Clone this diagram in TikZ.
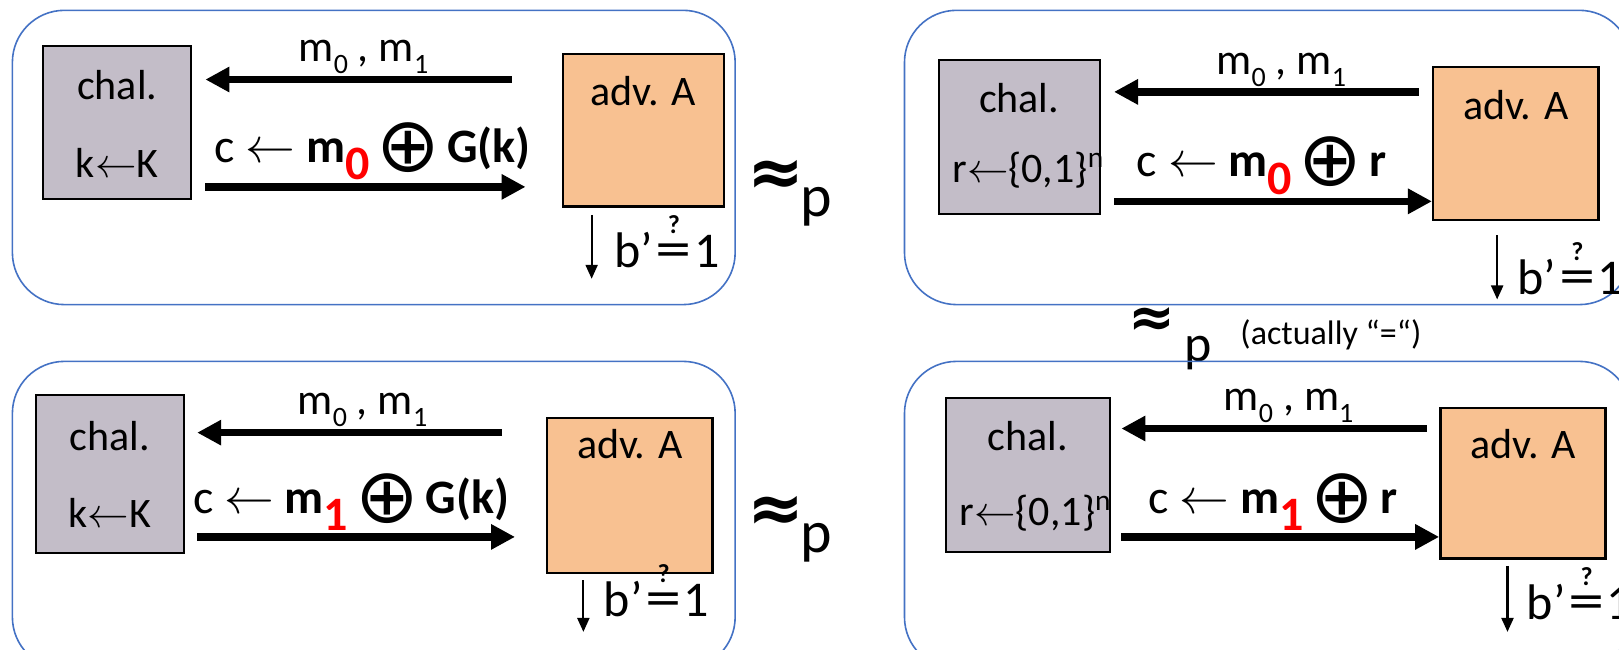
\documentclass[tikz,border=0pt]{standalone}
\usepackage{amsmath,graphicx}
\usepackage{fontspec}
\setmainfont{Carlito}
\newfontfamily\symfont{DejaVu Sans}
\usetikzlibrary{arrows.meta}
\definecolor{chalgray}{HTML}{C3BDC8}
\definecolor{advorange}{HTML}{F8C191}
\definecolor{panelblue}{HTML}{4472C4}
\newcommand{\redsub}[1]{\raisebox{-8.8pt}{\textcolor{red}{\textbf{#1}}}}
\newcommand{\lowsub}[1]{\raisebox{-6pt}{\fontsize{14}{14}\selectfont #1}}
\newcommand{\xorsym}{\kern-2pt\raisebox{-4.5pt}{\fontsize{38}{38}\symfont ⊕}\kern-2pt}
\newcommand{\bqeq}{b’\kern1.5pt$\overset{\mbox{\fontsize{13}{13}\selectfont\bfseries ?}}{\mbox{\scalebox{1.45}[1.1]{=}}}$\kern1pt 1}

\begin{document}
\begin{tikzpicture}[x=0.51625pt,y=-0.51625pt,font=\fontsize{21}{25}\selectfont,
panel/.style={draw=panelblue,line width=.8pt,rounded corners=26pt},
chalbox/.style={draw,fill=chalgray,line width=1pt,inner sep=0pt},
advbox/.style={draw,fill=advorange,line width=1.2pt,inner sep=0pt},
big/.style={line width=3.8pt,-{Triangle[length=12pt,width=12pt]}},
outarr/.style={line width=1.1pt,-{Triangle[length=7pt,width=6pt]}},
msg/.style={anchor=base,font=\fontsize{22}{26}\selectfont},
lab/.style={anchor=base,font=\fontsize{24}{28}\selectfont},
res/.style={anchor=base west,font=\fontsize{25}{29}\selectfont},
apx/.style={font=\fontsize{34}{38}\symfont\bfseries},
apxp/.style={font=\fontsize{30}{34}\selectfont}]
\useasboundingbox (0,0) rectangle (1568,629);
\clip (0,0) rectangle (1568,629);
% top left: real G(k), m0
\draw[panel] (12,10) rectangle (712,295);
\node[chalbox,minimum width=73.8pt,minimum height=76.4pt] (c1) at (113.5,119) {};
\node (c1n) at (113.5,82) {chal.};
\node (c1k) at (113.5,158) {k$\leftarrow$K};
\node[advbox,minimum width=80.5pt,minimum height=76.4pt] (a1) at (623,126) {};
\node (a1n) at (623,88) {adv. A};
\node[msg] (q1) at (352,60) {m\lowsub{0} , m\lowsub{1}};
\draw[big,shorten <=24.8pt,shorten >=6.7pt] (a1.west |- 0,77) -- (c1.east |- 0,77);
\node[lab] (x1) at (361,157) {c $\leftarrow$ \textbf{m}\redsub{0} \xorsym{} \textbf{G(k)}};
\draw[big,shorten <=6.7pt,shorten >=18pt] (c1.east |- 0,181) -- (a1.west |- 0,181);
\coordinate (b1) at (573,270);
\draw[outarr,shorten <=3.6pt] (a1.south -| b1) -- (b1);
\node[res] (r1) at (588,259) {\bqeq};
\node[apx] (s1) at (752,172) {≈};
\node[apxp] (s1p) at (791,200) {p};
% top right: random r, m0
\draw[panel] (876,10) rectangle (1580,295);
\node[chalbox,minimum width=80.5pt,minimum height=76.9pt] (c2) at (987,132.5) {};
\node (c2n) at (987,95) {chal.};
\node (c2k) at (996,165) {r$\leftarrow$\{0,1\}\textsuperscript{n}};
\node[advbox,minimum width=82.6pt,minimum height=76.4pt] (a2) at (1468,139) {};
\node (a2n) at (1468,102) {adv. A};
\node[msg] (q2) at (1241,72) {m\lowsub{0} , m\lowsub{1}};
\draw[big,shorten <=6.7pt,shorten >=6.7pt] (a2.west |- 0,89) -- (c2.east |- 0,89);
\node[lab] (x2) at (1222,171) {c $\leftarrow$ \textbf{m}\redsub{0} \xorsym{} \textbf{r}};
\draw[big,shorten <=6.7pt] (c2.east |- 0,195) -- (a2.west |- 0,195);
\coordinate (b2) at (1450,290);
\draw[outarr,shorten <=7pt] (a2.south -| b2) -- (b2);
\node[res] (r2) at (1463,285) {\bqeq};
% between the two right panels
\node[apx,font=\fontsize{28}{32}\symfont\bfseries] (s0) at (1116,312) {≈};
\node[font=\fontsize{26}{30}\selectfont] (s0p) at (1160,342) {p};
\node[font=\fontsize{17}{20}\selectfont] (s0a) at (1289,324) {(actually “=“)};
% bottom left: real G(k), m1
\draw[panel] (12,350) rectangle (712,648);
\node[chalbox,minimum width=73.8pt,minimum height=79pt] (c3) at (106.5,459.5) {};
\node (c3n) at (106.5,422) {chal.};
\node (c3k) at (106.5,497) {k$\leftarrow$K};
\node[advbox,minimum width=82.6pt,minimum height=77.4pt] (a3) at (610,480) {};
\node (a3n) at (610,430) {adv. A};
\node[msg] (q3) at (351,401) {m\lowsub{0} , m\lowsub{1}};
\draw[big,shorten <=22pt,shorten >=6.2pt] (a3.west |- 0,419) -- (c3.east |- 0,419);
\node[lab] (x3) at (340,497) {c $\leftarrow$ \textbf{m}\redsub{1} \xorsym{} \textbf{G(k)}};
\draw[big,shorten <=6.2pt,shorten >=15.5pt] (c3.east |- 0,520) -- (a3.west |- 0,520);
\coordinate (b3) at (565,612);
\draw[outarr,shorten <=3pt] (a3.south -| b3) -- (b3);
\node[res] (r3) at (578,597) {\bqeq};
\node[apx] (s3) at (752,498) {≈};
\node[apxp] (s3p) at (791,526) {p};
% bottom right: random r, m1
\draw[panel] (876,350) rectangle (1580,648);
\node[chalbox,minimum width=82.1pt,minimum height=77.4pt] (c4) at (995.5,460) {};
\node (c4n) at (995.5,422) {chal.};
\node (c4k) at (1003,497) {r$\leftarrow$\{0,1\}\textsuperscript{n}};
\node[advbox,minimum width=82.6pt,minimum height=75.4pt] (a4) at (1475,468) {};
\node (a4n) at (1475,430) {adv. A};
\node[msg] (q4) at (1248,398) {m\lowsub{0} , m\lowsub{1}};
\draw[big,shorten <=6.2pt,shorten >=5.2pt] (a4.west |- 0,415) -- (c4.east |- 0,415);
\node[lab] (x4) at (1233,497) {c $\leftarrow$ \textbf{m}\redsub{1} \xorsym{} \textbf{r}};
\draw[big,shorten <=5.2pt] (c4.east |- 0,520) -- (a4.west |- 0,520);
\coordinate (b4) at (1460,612);
\draw[outarr,shorten <=3pt] (a4.south -| b4) -- (b4);
\node[res] (r4) at (1472,600) {\bqeq};
\end{tikzpicture}
\end{document}
